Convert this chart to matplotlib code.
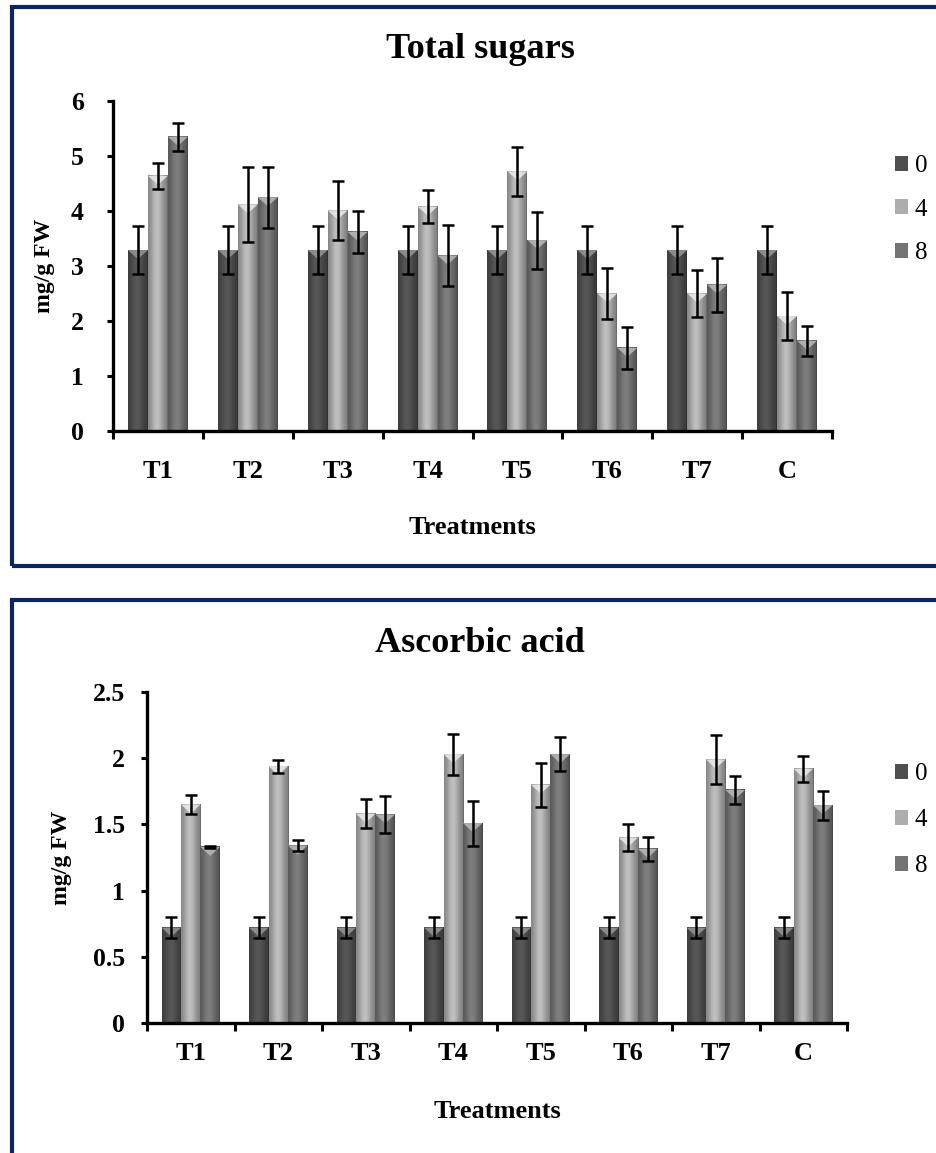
import numpy as np
import matplotlib
matplotlib.use("Agg")
import matplotlib.pyplot as plt
from matplotlib.patches import Rectangle, Polygon, Patch

plt.rcParams['font.family'] = ['Liberation Serif', 'DejaVu Serif']

categories = ['T1', 'T2', 'T3', 'T4', 'T5', 'T6', 'T7', 'C']
series_names = ['0', '4', '8']

# total sugars, mg/g FW
sugar_0 = [3.29, 3.29, 3.29, 3.29, 3.29, 3.29, 3.29, 3.29]
sugar_4 = [4.64, 4.12, 4.01, 4.08, 4.72, 2.50, 2.50, 2.09]
sugar_8 = [5.35, 4.25, 3.62, 3.19, 3.47, 1.51, 2.66, 1.64]
sugar_0_err = [0.44, 0.44, 0.44, 0.44, 0.44, 0.44, 0.44, 0.44]
sugar_4_err = [0.24, 0.68, 0.54, 0.30, 0.45, 0.47, 0.43, 0.43]
sugar_8_err = [0.25, 0.55, 0.38, 0.56, 0.52, 0.39, 0.49, 0.27]

# ascorbic acid, mg/g FW
ascorbic_0 = [0.72, 0.72, 0.72, 0.72, 0.72, 0.72, 0.72, 0.72]
ascorbic_4 = [1.65, 1.94, 1.58, 2.03, 1.80, 1.40, 1.99, 1.92]
ascorbic_8 = [1.33, 1.34, 1.575, 1.51, 2.03, 1.315, 1.76, 1.645]
ascorbic_0_err = [0.08, 0.08, 0.08, 0.08, 0.08, 0.08, 0.08, 0.08]
ascorbic_4_err = [0.07, 0.05, 0.11, 0.155, 0.165, 0.10, 0.185, 0.10]
ascorbic_8_err = [0.005, 0.04, 0.14, 0.17, 0.13, 0.09, 0.105, 0.11]

bar_grays = [0.31, 0.68, 0.45]

W, H = 936, 1153
fig = plt.figure(figsize=(W / 100, H / 100), dpi=100)


def fx(px):
    return px / W


def fy(py):
    return 1 - py / H


def shaded_bars(ax, x, vals, errs, gray, px_per_unit):
    bars = ax.bar(x, vals, width=2 / 9, color=str(gray), zorder=2)
    t = np.linspace(0, 1, 64)
    prof = 0.72 + 0.38 * np.exp(-((t - 0.45) / 0.33) ** 2)
    prof[-3:] *= 0.8
    for b in bars:
        x0, w, h = b.get_x(), b.get_width(), b.get_height()
        row = np.clip(gray * prof, 0, 1)
        img = np.dstack([row, row, row])
        ax.imshow(img, extent=[x0, x0 + w, 0, h], aspect='auto',
                  interpolation='bilinear', zorder=2.1)
        # light chevron on the top face
        d = 9 / px_per_unit
        tri = Polygon([(x0, h), (x0 + w, h), (x0 + w / 2, h - d)],
                      closed=True, color=str(min(gray + 0.28, 0.92)),
                      alpha=0.85, lw=0, zorder=2.2)
        ax.add_patch(tri)
    ax.errorbar(x, vals, yerr=errs, fmt='none', ecolor='black',
                elinewidth=1.8, capsize=4.5, capthick=1.8, zorder=3)


def panel(ax, data, errs, ymax, step, px_per_unit, ytick_pad, xtick_pad,
          ylab_x, xlab_y):
    x = np.arange(len(categories))
    offsets = [-2 / 9, 0, 2 / 9]
    for vals, err, off, g in zip(data, errs, offsets, bar_grays):
        shaded_bars(ax, x + off, vals, err, g, px_per_unit)
    ax.set_xlim(-0.5, len(categories) - 0.5)
    ax.set_ylim(0, ymax)
    ticks = np.arange(0, ymax + step / 2, step)
    ax.set_yticks(ticks)
    ax.set_yticklabels([('%g' % v) for v in ticks], fontsize=18.5,
                       fontweight='bold')
    ax.set_xticks(x)
    ax.set_xticklabels(categories, fontsize=19, fontweight='bold')
    ax.set_xticks(np.arange(-0.5, len(categories)), minor=True)
    ax.tick_params(axis='x', which='major', length=0, pad=xtick_pad)
    ax.tick_params(axis='x', which='minor', length=6, width=2.2,
                   direction='out')
    ax.tick_params(axis='y', length=4, width=2.2, direction='out',
                   pad=ytick_pad)
    for s in ['top', 'right']:
        ax.spines[s].set_visible(False)
    for s in ['left', 'bottom']:
        ax.spines[s].set_linewidth(2.4)
    ax.set_ylabel('mg/g FW', fontsize=17, fontweight='bold', va='center')
    ax.yaxis.set_label_coords(ylab_x, 0.5)
    ax.set_xlabel('Treatments', fontsize=19, fontweight='bold', va='center')
    ax.xaxis.set_label_coords(0.5, xlab_y)


# Total sugars
ax1 = fig.add_axes([fx(113), fy(431), fx(832 - 113), (431 - 101) / H])
panel(ax1, [sugar_0, sugar_4, sugar_8],
      [sugar_0_err, sugar_4_err, sugar_8_err],
      6, 1, 55, 17, 21, (45 - 113) / 719, -97 / 330)
fig.text(fx(480), fy(50), 'Total sugars', ha='center', va='center',
         fontsize=26, fontweight='bold')

# Ascorbic acid
ax2 = fig.add_axes([fx(147), fy(1023), fx(847 - 147), (1023 - 692) / H])
panel(ax2, [ascorbic_0, ascorbic_4, ascorbic_8],
      [ascorbic_0_err, ascorbic_4_err, ascorbic_8_err],
      2.5, 0.5, 132.7, 12, 14, (62 - 147) / 700, -89 / 331)
fig.text(fx(480), fy(643), 'Ascorbic acid', ha='center', va='center',
         fontsize=26, fontweight='bold')

# legends
handles = [Patch(facecolor=str(g), edgecolor='none') for g in bar_grays]
for ytop, spacing in [(143, 0.85), (751, 0.95)]:
    fig.legend(handles, series_names, loc='upper left',
               bbox_to_anchor=(fx(882), fy(ytop)), frameon=False,
               fontsize=18, handlelength=0.55, handleheight=0.55,
               handletextpad=0.25, labelspacing=spacing, borderpad=0)

# navy frames around each panel
frame_kw = dict(transform=fig.transFigure, fill=False,
                edgecolor='#0b2563', lw=3, zorder=10)
fig.add_artist(Rectangle((fx(12), fy(566)), 1.1, fy(7) - fy(566),
                         **frame_kw))
fig.add_artist(Rectangle((fx(12), -0.1), 1.1, fy(600) + 0.1, **frame_kw))

fig.savefig('out.png', dpi=100)
